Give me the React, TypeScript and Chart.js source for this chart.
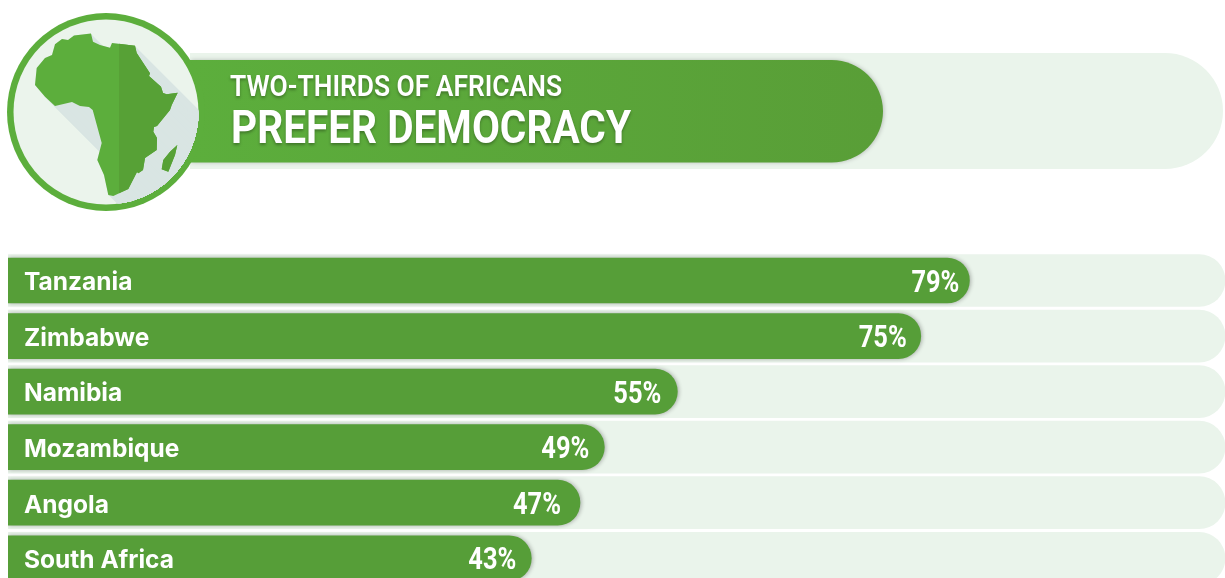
import React, { useEffect, useRef } from "react";
import { Chart, registerables } from "chart.js";

Chart.register(...registerables);

// Survey figures
const countries = ["Tanzania", "Zimbabwe", "Namibia", "Mozambique", "Angola", "South Africa"];
const democracyShare = [79, 75, 55, 49, 47, 43];
const fullScale = [100, 100, 100, 100, 100, 100];
// Gap between each percentage and the tip of its bar
const labelInsets = [10, 14, 16, 15, 19, 15];

const headingTop = "TWO-THIRDS OF AFRICANS";
const headingBottom = "PREFER DEMOCRACY";

const BAR_GREEN = "#569e38";
const TRACK_GREEN = "#eaf4eb";
const BADGE_GREEN = "#5cae3c";
const BADGE_DARK = "#57a136";
const BADGE_FILL = "#ebf4ec";
const CAST_SHADOW = "#d9e5e3";

// Outline of the continent emblem, in canvas pixels
const mainland: [number, number][] = [
  [91, 33.5], [93, 41.7], [100, 45], [110, 47.7], [112, 43], [135, 45.7], [136.7, 53], [150, 73.3],
  [149, 76], [161, 86.7], [163, 93], [166.7, 94.3], [177.7, 92.7], [171.7, 105], [170, 110], [157, 126],
  [154, 127], [153.3, 131.7], [157, 138], [156.7, 150], [145, 158], [143, 170], [138.3, 173.3],
  [137, 172], [128.3, 189], [113.3, 196], [108.3, 195], [104, 175], [97.3, 160], [101.7, 143],
  [92.7, 110], [89, 107], [80, 106], [72, 102], [55, 106], [45, 96.7], [35, 85], [36.7, 68],
  [45, 58], [52, 55], [55, 44.3], [62, 39], [68, 40], [74, 35.5],
];
const island: [number, number][] = [
  [177.3, 145], [175, 155], [168.3, 171.7], [161.7, 169.3], [163.3, 160], [170, 151.7],
];

function tracePolygon(ctx: CanvasRenderingContext2D, pts: [number, number][], dx = 0, dy = 0) {
  ctx.moveTo(pts[0][0] + dx, pts[0][1] + dy);
  for (let i = 1; i < pts.length; i++) ctx.lineTo(pts[i][0] + dx, pts[i][1] + dy);
  ctx.closePath();
}

function pill(ctx: CanvasRenderingContext2D, x0: number, y0: number, x1: number, y1: number) {
  const r = (y1 - y0) / 2;
  ctx.beginPath();
  ctx.moveTo(x0, y0);
  ctx.lineTo(x1 - r, y0);
  ctx.arc(x1 - r, y0 + r, r, -Math.PI / 2, Math.PI / 2);
  ctx.lineTo(x0, y1);
  ctx.closePath();
}

// Banner, circular badge and heading above the bars
const headerPlugin = {
  id: "header",
  beforeDraw(chart: Chart) {
    const ctx = chart.ctx;
    ctx.save();

    ctx.fillStyle = TRACK_GREEN;
    pill(ctx, 190, 53, 1223, 169);
    ctx.fill();

    const grad = ctx.createLinearGradient(190, 0, 883, 0);
    grad.addColorStop(0, "#5cae3c");
    grad.addColorStop(1, "#599e37");
    ctx.save();
    ctx.shadowColor = "rgba(0,0,0,0.22)";
    ctx.shadowBlur = 4;
    ctx.shadowOffsetX = 1;
    ctx.fillStyle = grad;
    pill(ctx, 190, 60, 883, 162.5);
    ctx.fill();
    ctx.restore();

    const cx = 106, cy = 112;
    ctx.beginPath();
    ctx.arc(cx, cy, 99, 0, Math.PI * 2);
    ctx.fillStyle = BADGE_GREEN;
    ctx.fill();
    ctx.beginPath();
    ctx.arc(cx, cy, 92.5, 0, Math.PI * 2);
    ctx.fillStyle = BADGE_FILL;
    ctx.fill();

    // Long cast shadow running to the lower right, kept inside the badge
    ctx.save();
    ctx.beginPath();
    ctx.arc(cx, cy, 92.5, 0, Math.PI * 2);
    ctx.clip();
    ctx.fillStyle = CAST_SHADOW;
    for (let d = 0; d < 170; d += 1) {
      ctx.beginPath();
      tracePolygon(ctx, mainland, d, d);
      tracePolygon(ctx, island, d, d);
      ctx.fill();
    }
    ctx.restore();

    // Continent, lit on the left half and darker on the right
    ctx.beginPath();
    tracePolygon(ctx, mainland);
    tracePolygon(ctx, island);
    ctx.fillStyle = BADGE_GREEN;
    ctx.fill();
    ctx.save();
    ctx.beginPath();
    ctx.rect(119, 0, 120, 230);
    ctx.clip();
    ctx.beginPath();
    tracePolygon(ctx, mainland);
    tracePolygon(ctx, island);
    ctx.fillStyle = BADGE_DARK;
    ctx.fill();
    ctx.restore();

    ctx.fillStyle = "#ffffff";
    ctx.shadowColor = "rgba(0,0,0,0.3)";
    ctx.shadowBlur = 3;
    ctx.shadowOffsetY = 2;
    ctx.textAlign = "left";
    ctx.textBaseline = "alphabetic";
    ctx.font = '600 30px Roboto';
    ctx.fillText(headingTop, 230, 96, 332);
    ctx.font = '700 46px Roboto';
    ctx.fillText(headingBottom, 231, 143, 400);
    ctx.restore();
  },
};

// Soft edge around the value bars, and the percentage at the tip of each
const barDecorPlugin = {
  id: "barDecor",
  beforeDatasetDraw(chart: Chart, args: { index: number }) {
    if (args.index !== 1) return;
    const ctx = chart.ctx;
    ctx.save();
    ctx.shadowColor = "rgba(0,0,0,0.3)";
    ctx.shadowBlur = 4;
    ctx.shadowOffsetX = 1;
  },
  afterDatasetDraw(chart: Chart, args: { index: number }) {
    if (args.index !== 1) return;
    chart.ctx.restore();
  },
  afterDatasetsDraw(chart: Chart) {
    const ctx = chart.ctx;
    const meta = chart.getDatasetMeta(1);
    ctx.save();
    ctx.fillStyle = "#ffffff";
    ctx.font = '700 31px Roboto';
    ctx.textAlign = "right";
    ctx.textBaseline = "alphabetic";
    meta.data.forEach((bar: any, i: number) => {
      ctx.fillText(`${democracyShare[i]}%`, bar.x - labelInsets[i], bar.y + 11, 48);
    });
    ctx.restore();
  },
};

export default function App() {
  const canvasRef = useRef<HTMLCanvasElement>(null);

  useEffect(() => {
    if (!canvasRef.current) return;
    const chart = new Chart(canvasRef.current, {
      type: "bar",
      data: {
        labels: countries,
        datasets: [
          {
            data: fullScale,
            backgroundColor: TRACK_GREEN,
            barThickness: 52,
            grouped: false,
            order: 2,
            borderSkipped: false,
            borderRadius: { topLeft: 0, bottomLeft: 0, topRight: 26, bottomRight: 26 },
          },
          {
            data: democracyShare,
            backgroundColor: BAR_GREEN,
            barThickness: 45,
            grouped: false,
            order: 1,
            borderSkipped: false,
            borderRadius: { topLeft: 0, bottomLeft: 0, topRight: 22.5, bottomRight: 22.5 },
          },
        ],
      },
      options: {
        indexAxis: "y",
        animation: false,
        responsive: false,
        layout: { padding: { left: 8, right: 0, top: 252.75, bottom: 0 } },
        plugins: { legend: { display: false }, tooltip: { enabled: false }, title: { display: false } },
        scales: {
          x: { display: false, min: 0, max: 100 },
          y: {
            grid: { display: false },
            border: { display: false },
            // Labels sit inside the bars, so the axis takes up no room of its own
            afterFit(scale: any) {
              scale.width = 0;
              scale.paddingTop = 0;
              scale.paddingBottom = 0;
            },
            ticks: {
              mirror: true,
              z: 1,
              padding: 16,
              labelOffset: 2.5,
              color: "#ffffff",
              font: { family: "Inter", size: 24.5, weight: 700 },
            },
          },
        },
      },
      plugins: [headerPlugin, barDecorPlugin],
    } as any);
    return () => chart.destroy();
  }, []);

  return (
    <div style={{ position: "fixed", left: 0, top: 0, width: 1225, height: 578, overflow: "hidden", background: "#ffffff" }}>
      <canvas ref={canvasRef} width={1225} height={586} style={{ display: "block" }} />
    </div>
  );
}
